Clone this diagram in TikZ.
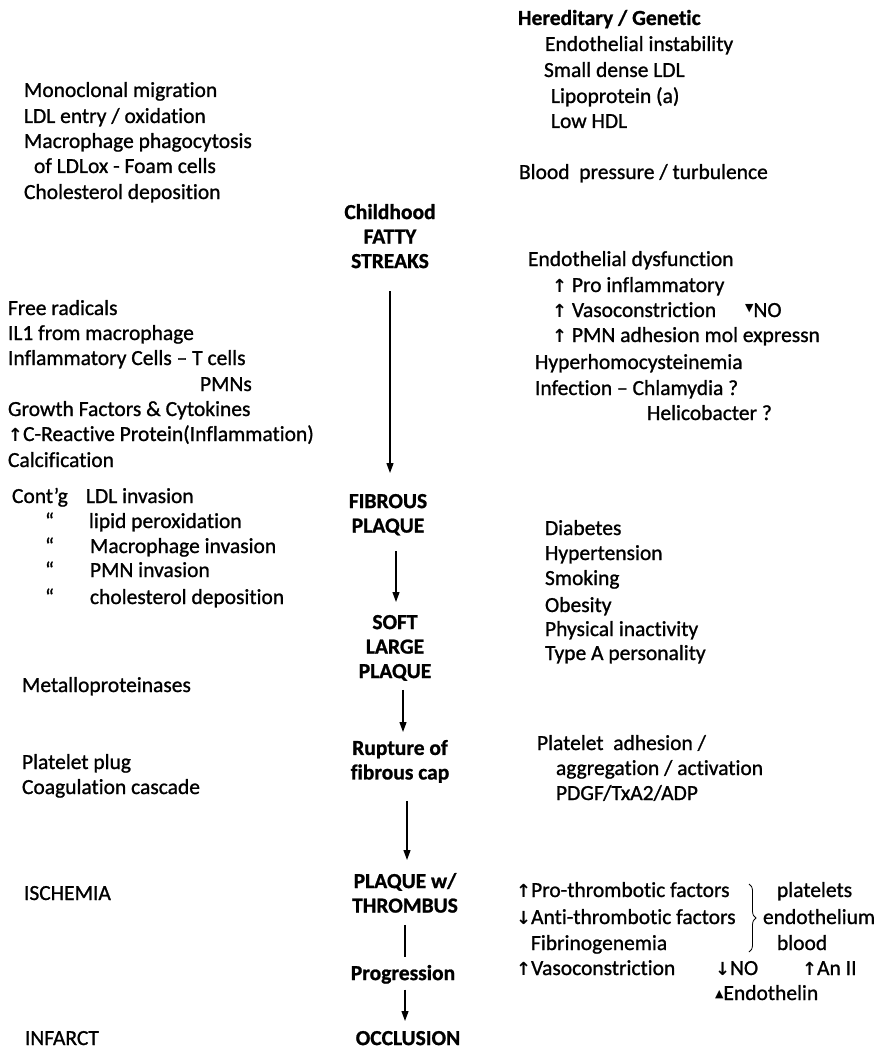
\documentclass[tikz,border=0pt]{standalone}
\usepackage{fontspec}
\setmainfont{Carlito}[Ligatures={NoCommon},RawFeature={embolden=1.0}]
\newfontfamily\symfont{DejaVu Sans}
\usetikzlibrary{arrows.meta,decorations.pathreplacing}
\newcommand\myup{{\symfont\bfseries\fontsize{18}{18}\selectfont ↑}}
\newcommand\mydown{{\symfont\bfseries\fontsize{18}{18}\selectfont ↓}}
\newcommand\mytridown{\raisebox{6pt}{\symfont\fontsize{11}{11}\selectfont ▼}}
\newcommand\mytriup{\raisebox{3pt}{\symfont\fontsize{11}{11}\selectfont ▲}}
\begin{document}
\begin{tikzpicture}[x=1pt,y=-1pt,
  every node/.style={inner sep=0pt,outer sep=0pt,font=\fontsize{21.5}{25.5}\selectfont},
  txt/.style={anchor=base west},
  stage/.style={anchor=north,align=center,font=\fontsize{21.5}{24.5}\selectfont\bfseries},
  flow/.style={line width=1.2pt,-{Triangle[length=10pt,width=7pt]}},
  plain/.style={line width=1.2pt}]
\fill[white] (0,0) rectangle (882,1051);
\useasboundingbox (0,0) rectangle (882,1051);

% centre column
\node[stage] (c1) at (390,204) {Childhood\\FATTY\\STREAKS};
\node[stage] (c2) at (388,494) {FIBROUS\\PLAQUE};
\node[stage] (c3) at (395,615) {SOFT\\LARGE\\PLAQUE};
\node[stage] (c4) at (400,740) {Rupture of\\fibrous cap};
\node[stage] (c5) at (405,873) {PLAQUE w/\\THROMBUS};
\node[stage] (c6) at (403,965) {Progression};
\node[stage] (c7) at (408,1031) {OCCLUSION};

\draw[flow,shorten <=23pt,shorten >=21pt] (c1.south) -- (c1.south |- c2.north);
\draw[flow,shorten <=16pt,shorten >=13pt] ([xshift=8pt]c2.south) -- ([xshift=8pt]c2.south |- c3.north);
\draw[flow,shorten <=9pt,shorten >=8pt] ([xshift=8pt]c3.south) -- ([xshift=8pt]c3.south |- c4.north);
\draw[flow,shorten <=18pt,shorten >=13pt] ([xshift=7pt]c4.south) -- ([xshift=7pt]c4.south |- c5.north);
\draw[plain,shorten <=12pt,shorten >=8pt] (c5.south) -- (c5.south |- c6.north);
\draw[flow,shorten <=6pt,shorten >=10pt] ([xshift=2pt]c6.south) -- ([xshift=2pt]c6.south |- c7.north);

% left top
\node[txt] (m1) at (24,97) {Monoclonal migration};
\node[txt] (m2) at (24,123) {LDL entry / oxidation};
\node[txt] (m3) at (24,148) {Macrophage phagocytosis};
\node[txt] (m4) at (34,173) {of LDLox - Foam cells};
\node[txt] (m5) at (24,199) {Cholesterol deposition};

% left middle
\node[txt] (f1) at (8,315) {Free radicals};
\node[txt] (f2) at (8,340) {IL1 from macrophage};
\node[txt] (f3) at (8,365) {Inflammatory Cells -- T cells};
\node[txt] (f4) at (200,391) {PMNs};
\node[txt] (f5) at (8,416) {Growth Factors \& Cytokines};
\node[txt] (f6) at (8,441) {\myup C-Reactive Protein(Inflammation)};
\node[txt] (f7) at (8,467) {Calcification};

\node[txt] (g1a) at (12,503) {Cont'g};
\node[txt] (g1) at (86,503) {LDL invasion};
\node[txt] (g2a) at (45,528) {``};
\node[txt] (g2) at (89,528) {lipid peroxidation};
\node[txt] (g3a) at (45,553) {``};
\node[txt] (g3) at (90,553) {Macrophage invasion};
\node[txt] (g4a) at (45,577) {``};
\node[txt] (g4) at (90,577) {PMN invasion};
\node[txt] (g5a) at (45,604) {``};
\node[txt] (g5) at (90,604) {cholesterol deposition};

% left bottom
\node[txt] (mp) at (22,692) {Metalloproteinases};
\node[txt] (pp) at (22,769) {Platelet plug};
\node[txt] (cc) at (22,794) {Coagulation cascade};
\node[txt] (isch) at (24,900) {ISCHEMIA};
\node[txt] (inf) at (25,1045) {INFARCT};

% right top
\node[txt,font=\fontsize{21.5}{25.5}\selectfont\bfseries] (h0) at (518,25) {Hereditary / Genetic};
\node[txt] (h1) at (545,51) {Endothelial instability};
\node[txt] (h2) at (544,77) {Small dense LDL};
\node[txt] (h3) at (551,103) {Lipoprotein (a)};
\node[txt] (h4) at (551,128) {Low HDL};
\node[txt] (bp) at (519,179) {Blood\ \ pressure / turbulence};

\node[txt] (ed) at (528,266) {Endothelial dysfunction};
\node[txt] (e1) at (552,292) {\myup\ Pro inflammatory};
\node[txt] (e2) at (552,317) {\myup\ Vasoconstriction};
\node[txt] (e2b) at (745,317) {\mytridown NO};
\node[txt] (e3) at (552,342) {\myup\ PMN adhesion mol expressn};
\node[txt] (hy) at (535,369) {Hyperhomocysteinemia};
\node[txt] (in) at (535,395) {Infection -- Chlamydia ?};
\node[txt] (he) at (647,420) {Helicobacter ?};

% right middle
\node[txt] (d1) at (545,535) {Diabetes};
\node[txt] (d2) at (545,560) {Hypertension};
\node[txt] (d3) at (545,585) {Smoking};
\node[txt] (d4) at (545,612) {Obesity};
\node[txt] (d5) at (545,636) {Physical inactivity};
\node[txt] (d6) at (545,660) {Type A personality};

\node[txt] (pa1) at (537,750) {Platelet\ \ adhesion /};
\node[txt] (pa2) at (556,775) {aggregation / activation};
\node[txt] (pa3) at (556,800) {PDGF/TxA2/ADP};

% right bottom
\node[txt] (t1) at (516,897) {\myup Pro-thrombotic factors};
\node[txt] (t2) at (516,924) {\mydown Anti-thrombotic factors};
\node[txt] (t3) at (531,950) {Fibrinogenemia};
\node[txt] (t4) at (516,975) {\myup Vasoconstriction};
\node[txt] (p1) at (777,897) {platelets};
\node[txt] (p2) at (763,924) {endothelium};
\node[txt] (p3) at (777,950) {blood};
\node[txt] (no) at (715,975) {\mydown NO};
\node[txt] (an) at (802,975) {\myup An II};
\node[txt] (en) at (715,1000) {\mytriup Endothelin};
\coordinate (bt) at (749,884);
\coordinate (bb) at (749,952);
\draw[line width=0.8pt,decorate,decoration={brace,amplitude=7pt}] (bt) -- (bb);
\end{tikzpicture}
\end{document}
